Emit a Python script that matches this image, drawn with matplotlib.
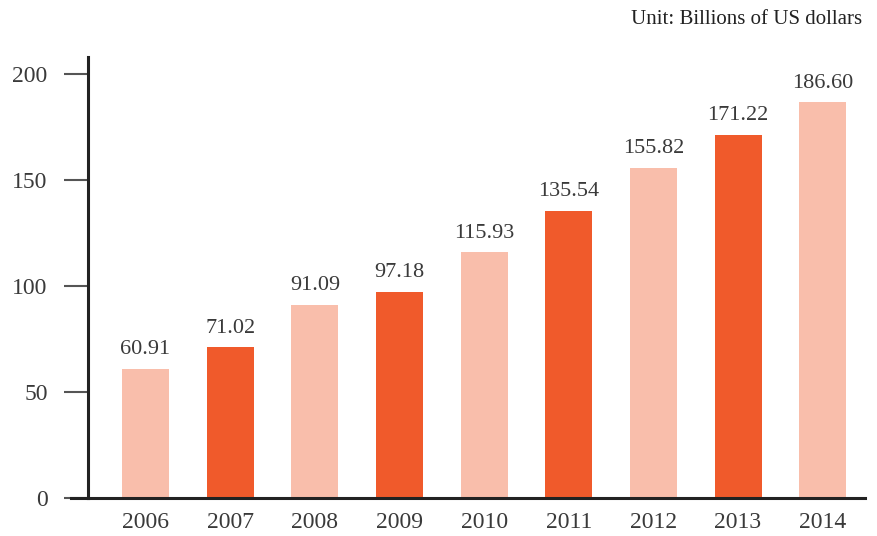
import matplotlib
matplotlib.use("Agg")
import matplotlib.pyplot as plt

years = ["2006", "2007", "2008", "2009", "2010", "2011", "2012", "2013", "2014"]
values = [60.91, 71.02, 91.09, 97.18, 115.93, 135.54, 155.82, 171.22, 186.60]
light = "#F9BEAB"
dark = "#F05A2B"
colors = [light, dark, light, dark, light, dark, light, dark, light]

plt.rcParams['font.family'] = ['Liberation Serif', 'DejaVu Serif']

fig = plt.figure(figsize=(8.78, 5.36), dpi=100)
ax = fig.add_axes([88/878, 38/536, (865-88)/878, (498-57)/536])

x = list(range(len(years)))
ax.bar(x, values, width=0.556, color=colors, zorder=2)
for xi, v in zip(x, values):
    ax.text(xi, v + 4.5, f"{v:.2f}", ha="center", va="bottom", fontsize=16, color="#3a3a3a")

ax.set_xlim(-0.68, 8.5)
ax.set_ylim(0, 208)
ax.set_yticks([0, 50, 100, 150, 200])
ax.set_xticks(x)
ax.set_xticklabels(years)
for s in ["top", "right"]:
    ax.spines[s].set_visible(False)
ax.spines["left"].set_linewidth(2.2)
ax.spines["bottom"].set_linewidth(2.2)
ax.spines["left"].set_color("#222222")
ax.spines["bottom"].set_color("#222222")
ax.tick_params(axis="y", length=17, width=1.5, color="#555555", labelsize=17, labelcolor="#3a3a3a", pad=12)
ax.tick_params(axis="x", length=0, labelsize=17, labelcolor="#3a3a3a", pad=10)
ax.plot([-0.68 - 17/84.6, -0.68], [0, 0], color="#222222", lw=2.2, clip_on=False, zorder=3)

fig.text(862/878, 1 - 20/536, "Unit: Billions of US dollars", ha="right", va="center", fontsize=15, color="#222222")

fig.savefig("out.png", dpi=100)
